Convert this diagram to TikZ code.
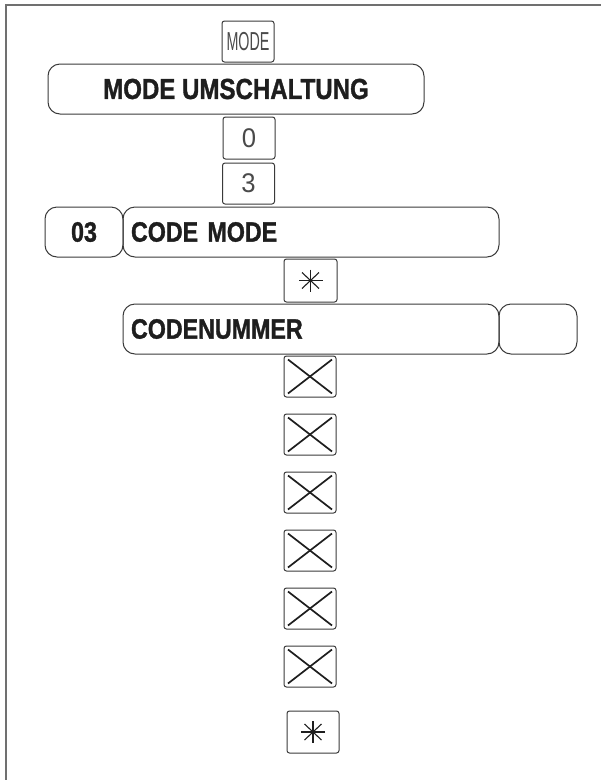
\documentclass[tikz,border=0pt]{standalone}
\usepackage{fontspec}
\setmainfont{Liberation Sans}
\newfontfamily\condbold[FakeStretch=0.83, FakeBold=1.2]{Liberation Sans Bold}
\newfontfamily\keycond[FakeStretch=0.55]{Liberation Sans}
\newfontfamily\keydigit[FakeStretch=0.95]{Liberation Sans}
\definecolor{ink}{HTML}{1E1E1E}
\definecolor{edge}{HTML}{3A3A3A}
\definecolor{frame}{HTML}{707070}
\definecolor{keyink}{HTML}{4A4A4A}
\tikzset{
  bigbox/.style={draw=edge, line width=1pt, rounded corners=12pt, minimum height=50pt, inner sep=0pt, text=ink},
  leftbox/.style={bigbox, text width=360pt, align=left, inner xsep=8pt, minimum width=376pt},
  keybox/.style={draw=edge, line width=1pt, rounded corners=2.5pt, minimum width=52pt, minimum height=41pt, inner sep=0pt, text=keyink},
  xkey/.style={keybox, path picture={
      \draw[ink, line width=1.7pt] ([shift={(4pt,3.5pt)}]path picture bounding box.south west) -- ([shift={(-4pt,-3.5pt)}]path picture bounding box.north east);
      \draw[ink, line width=1.7pt] ([shift={(4pt,-3.5pt)}]path picture bounding box.north west) -- ([shift={(-4pt,3.5pt)}]path picture bounding box.south east);}},
  starkey/.style={keybox, path picture={
      \draw[ink, line width=1.1pt] ([yshift=11pt]path picture bounding box.center) -- ([yshift=-11pt]path picture bounding box.center);
      \draw[ink, line width=1.1pt] ([xshift=12pt]path picture bounding box.center) -- ([xshift=-12pt]path picture bounding box.center);
      \draw[ink, line width=1.1pt] ([shift={(8.5pt,8pt)}]path picture bounding box.center) -- ([shift={(-8.5pt,-8pt)}]path picture bounding box.center);
      \draw[ink, line width=1.1pt] ([shift={(-8.5pt,8pt)}]path picture bounding box.center) -- ([shift={(8.5pt,-8pt)}]path picture bounding box.center);}},
  bigtext/.style={font=\condbold\fontsize{29}{32}\selectfont},
  midtext/.style={font=\condbold\fontsize{28}{31}\selectfont},
  frameline/.style={draw=frame, line width=1.6pt}
}
\begin{document}
\begin{tikzpicture}[x=1pt,y=-1pt]
\useasboundingbox (0,0) rectangle (601,780);
% page frame
\coordinate (fb) at (6,780);
\coordinate (fc) at (6,5);
\coordinate (fr) at (601,5);
\draw[frameline] (fb) -- (fc) -- (fr);

\node[keybox, font=\keycond\fontsize{26}{28}\selectfont] (mode) at (248,41.5) {MODE};
\node[bigbox, minimum width=376pt, bigtext] (umsch) at (236,89) {MODE UMSCHALTUNG};
\node[keybox, minimum height=42pt, font=\keydigit\fontsize{27}{28}\selectfont] (k0) at (249,138) {0};
\node[keybox, font=\keydigit\fontsize{27}{28}\selectfont] (k3) at (248.5,183.5) {3};
\node[bigbox, minimum width=78pt, midtext] (n03) at (84,232) {03};
\node[leftbox, midtext] (codemode) at (311,232) {CODE MODE};
\node[starkey, minimum width=53pt, minimum height=43pt] (star1) at (310.5,280.5) {};
\node[leftbox, midtext] (codenr) at (311,329) {CODENUMMER};
\node[bigbox, minimum width=78pt] (codeval) at (538,329) {};
\node[xkey] (x1) at (310,376.5) {};
\node[xkey] (x2) at (310,434.5) {};
\node[xkey] (x3) at (310,492.5) {};
\node[xkey] (x4) at (310,550.5) {};
\node[xkey] (x5) at (310,608.5) {};
\node[xkey] (x6) at (310,666.5) {};
\node[starkey, minimum height=42pt] (star2) at (313,732) {};
\end{tikzpicture}
\end{document}
